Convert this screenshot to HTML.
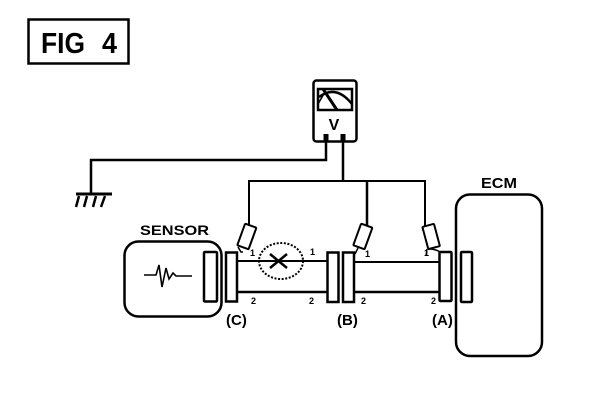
<!DOCTYPE html>
<html>
<head>
<meta charset="utf-8">
<style>
html,body{margin:0;padding:0;background:#fff;}
svg{display:block;}
text{font-family:"Liberation Sans",sans-serif;font-weight:bold;fill:#000;}
</style>
</head>
<body>
<svg width="608" height="402" viewBox="0 0 608 402" xmlns="http://www.w3.org/2000/svg">
<g fill="none" stroke="#000" stroke-width="2">
  <!-- title box -->
  <rect x="28.5" y="19.5" width="100" height="44" stroke-width="2.5"/>
  <!-- ground -->
  <path d="M326 142V160H91V194" stroke-width="2.5"/>
  <path d="M76 194H112" stroke-width="3"/>
  <path d="M79 196L76 207M87 196L84 207M96 196L93 207M105 196L101 207" stroke-width="2.5"/>
  <!-- meter -->
  <rect x="313.5" y="80.5" width="43" height="61" rx="3" stroke-width="2.5"/>
  <rect x="318" y="89" width="34" height="21" stroke-width="2.5"/>
  <path d="M319 97Q336 84 352 104" stroke-width="2.5"/>
  <path d="M323 89L337 110" stroke-width="3"/>
  <path d="M318 104L325 92" stroke-width="1.5"/>
  <path d="M326 134V142M343 134V142" stroke-width="5"/>
  <path d="M343 142V181" stroke-width="2.5"/>
  <!-- bus and probe leads -->
  <path d="M249 226V181H425V226" stroke-width="2"/>
  <path d="M367 181V226" stroke-width="2.5"/>
  <!-- probes -->
  <rect x="241" y="225" width="12" height="23" rx="1" transform="rotate(20 247 236)"/>
  <rect x="357" y="225" width="12" height="23" rx="1" transform="rotate(20 363 236)"/>
  <rect x="425" y="225" width="12" height="23" rx="1" transform="rotate(-15 431 236)"/>
  <path d="M238 247L241 252H243M358 248L355 254M427 249L426 256M428 249Q436 249 440 252" stroke-width="1.5"/>
  <!-- sensor -->
  <rect x="124.5" y="241.5" width="97" height="75" rx="14" stroke-width="2.5"/>
  <rect x="204" y="252" width="13" height="49.5" rx="1" stroke-width="2.5"/>
  <path d="M144 275H156L159 265L162 287L166 268L169 279L173 273L176 276H192" stroke-width="1.6"/>
  <!-- connectors -->
  <rect x="226" y="252.5" width="11" height="49" stroke-width="2.5"/>
  <rect x="327.5" y="252.5" width="11" height="49.5" stroke-width="2.5"/>
  <rect x="343" y="252.5" width="11" height="49.5" stroke-width="2.5"/>
  <rect x="439.5" y="252" width="12" height="49" rx="1" stroke-width="2.5"/>
  <rect x="461" y="252" width="11" height="50" rx="1" stroke-width="2.5"/>
  <!-- wires -->
  <path d="M237 261H328M355 262H439" stroke-width="2"/>
  <path d="M237 292H328M355 292H439" stroke-width="2.5"/>
  <!-- open-circuit mark -->
  <ellipse cx="281" cy="261" rx="22" ry="18" stroke-width="2" stroke-dasharray="2 1.6"/>
  <path d="M270 254L287 268M287 254L270 268" stroke-width="2.5"/>
  <!-- ECM -->
  <rect x="456" y="194.5" width="86" height="161.5" rx="14" stroke-width="2.5"/>
</g>
<text x="41" y="53" font-size="29" textLength="44" lengthAdjust="spacingAndGlyphs">FIG</text>
<text x="102" y="53" font-size="29" textLength="15" lengthAdjust="spacingAndGlyphs">4</text>
<text x="334" y="130" font-size="16" text-anchor="middle">V</text>
<text x="140" y="235" font-size="14" textLength="69" lengthAdjust="spacingAndGlyphs">SENSOR</text>
<text x="481" y="188" font-size="15" textLength="36" lengthAdjust="spacingAndGlyphs">ECM</text>
<text x="226" y="325" font-size="15">(C)</text>
<text x="337" y="325" font-size="15">(B)</text>
<text x="432" y="325" font-size="15">(A)</text>
<g font-size="9">
  <text x="250" y="256">1</text>
  <text x="310" y="255">1</text>
  <text x="365" y="257">1</text>
  <text x="424" y="256">1</text>
  <text x="251" y="304">2</text>
  <text x="309" y="304">2</text>
  <text x="361" y="304">2</text>
  <text x="431" y="304">2</text>
</g>
</svg>
</body>
</html>
